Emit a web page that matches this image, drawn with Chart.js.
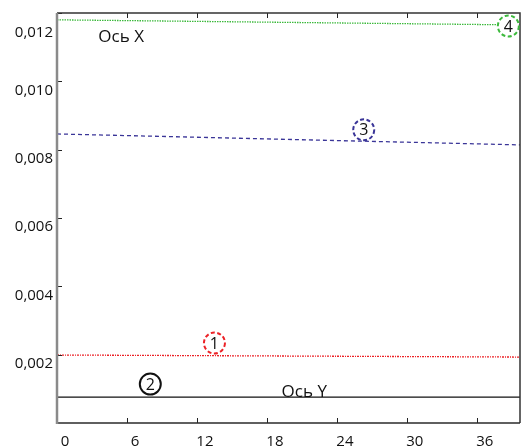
<!DOCTYPE html>
<html>
<head>
<meta charset="utf-8">
<script src="https://cdn.jsdelivr.net/npm/chart.js@4"></script>
<style>
  html, body { margin: 0; padding: 0; background: #fff; }
  #wrap { width: 523px; height: 447px; position: relative; }
</style>
</head>
<body>
<div id="wrap"><canvas id="chart"></canvas></div>
<script>
// данные
const xRange = [0, 39.7];
const xTicks = [0, 6, 12, 18, 24, 30, 36];
const yTicks = [0.002, 0.004, 0.006, 0.008, 0.010, 0.012];

const line1 = [0.00199, 0.00193];   // красная
const line2 = [0.00076, 0.00076];   // чёрная
const line3 = [0.00846, 0.00814];   // синяя
const line4 = [0.01180, 0.01165];   // зелёная

const markNames = ['1', '2', '3', '4'];
const markX = [13.5, 8.0, 26.3, 38.7];
const markY = [0.00234, 0.00114, 0.00858, 0.01162];

const noteText = ['Ось X', 'Ось Y'];
const noteX = [5.5, 21.2];
const noteY = [0.0113, 0.00091];

const colors = ['#ec2227', '#111111', '#3a3598', '#3cb93c'];
const dashes = [[2, 1, 1, 1], [], [4, 3], [1.5, 1]];

const FONT = '"Open Sans", "DejaVu Sans", sans-serif';

function pts(v) { return [{ x: xRange[0], y: v[0] }, { x: xRange[1], y: v[1] }]; }

// рамка, засечки, подписи шкалы Y, кружки с номерами и надписи
const decor = {
  id: 'decor',
  afterDatasetsDraw(c) {
    const { ctx, chartArea: a, scales: { x, y } } = c;
    ctx.save();
    ctx.strokeStyle = '#222';
    ctx.lineWidth = 1;
    xTicks.forEach(t => {
      const px = Math.round(x.getPixelForValue(t)) + 0.5;
      ctx.beginPath();
      ctx.moveTo(px, a.bottom); ctx.lineTo(px, a.bottom - 5);
      ctx.moveTo(px, a.top); ctx.lineTo(px, a.top + 5);
      ctx.stroke();
    });
    yTicks.forEach(t => {
      const py = Math.round(y.getPixelForValue(t)) + 0.5;
      ctx.beginPath();
      ctx.moveTo(a.left, py); ctx.lineTo(a.left + 5, py);
      ctx.stroke();
    });

    // подписи Y немного ниже засечек
    ctx.font = '15px ' + FONT;
    ctx.fillStyle = '#111';
    ctx.textAlign = 'right';
    ctx.textBaseline = 'middle';
    yTicks.forEach((t, i) => {
      const py = y.getPixelForValue(t) + (i === yTicks.length - 1 ? 20 : 9);
      ctx.fillText(t.toFixed(3).replace('.', ','), a.left - 4, py);
    });

    // рамка
    ctx.strokeStyle = '#333';
    ctx.lineWidth = 1.5;
    ctx.beginPath();
    ctx.moveTo(a.left, a.top); ctx.lineTo(a.right, a.top); ctx.lineTo(a.right, a.bottom);
    ctx.stroke();
    ctx.strokeStyle = '#2a2a2a';
    ctx.beginPath();
    ctx.moveTo(a.left, a.bottom); ctx.lineTo(a.right, a.bottom);
    ctx.stroke();
    ctx.strokeStyle = '#8a8a8a';
    ctx.lineWidth = 2.5;
    ctx.beginPath();
    ctx.moveTo(a.left, a.top); ctx.lineTo(a.left, a.bottom + 1);
    ctx.stroke();

    // кружки
    ctx.textAlign = 'center';
    ctx.font = '16px ' + FONT;
    markNames.forEach((n, i) => {
      const px = x.getPixelForValue(markX[i]), py = y.getPixelForValue(markY[i]);
      ctx.fillStyle = '#fff';
      ctx.beginPath(); ctx.arc(px, py, 10.5, 0, Math.PI * 2); ctx.fill();
      ctx.strokeStyle = colors[i];
      ctx.lineWidth = 2;
      ctx.setLineDash(i === 1 ? [] : [4, 2.5]);
      ctx.stroke();
      ctx.setLineDash([]);
      ctx.fillStyle = '#111';
      ctx.fillText(n, px, py + 1);
    });

    // надписи
    ctx.font = '17px ' + FONT;
    ctx.fillStyle = '#111';
    noteText.forEach((t, i) => {
      ctx.fillText(t, x.getPixelForValue(noteX[i]), y.getPixelForValue(noteY[i]));
    });
    ctx.restore();
  }
};

new Chart(document.getElementById('chart'), {
  type: 'line',
  data: {
    datasets: [line1, line2, line3, line4].map((v, i) => ({
      data: pts(v),
      borderColor: colors[i],
      borderWidth: i === 1 ? 1.2 : 1.3,
      borderDash: dashes[i],
      pointRadius: 0,
      fill: false
    }))
  },
  options: {
    responsive: true,
    maintainAspectRatio: false,
    animation: false,
    layout: { padding: { top: 13, right: 3, left: 0, bottom: 0 } },
    plugins: { legend: { display: false }, tooltip: { enabled: false } },
    scales: {
      x: {
        type: 'linear',
        min: xRange[0], max: xRange[1],
        grid: { display: false, drawTicks: false },
        border: { display: false },
        afterBuildTicks: s => { s.ticks = xTicks.map(v => ({ value: v })); },
        afterFit: s => { s.height = 24; },
        ticks: {
          color: '#111', font: { family: FONT, size: 15 },
          padding: 10, labelOffset: 8, maxRotation: 0,
          callback: v => String(v)
        }
      },
      y: {
        type: 'linear',
        min: 0, max: 0.012,
        grid: { display: false, drawTicks: false },
        border: { display: false },
        afterBuildTicks: s => { s.ticks = yTicks.map(v => ({ value: v })); },
        afterFit: s => { s.width = 57; },
        ticks: { display: false }
      }
    }
  },
  plugins: [decor]
});
</script>
</body>
</html>
